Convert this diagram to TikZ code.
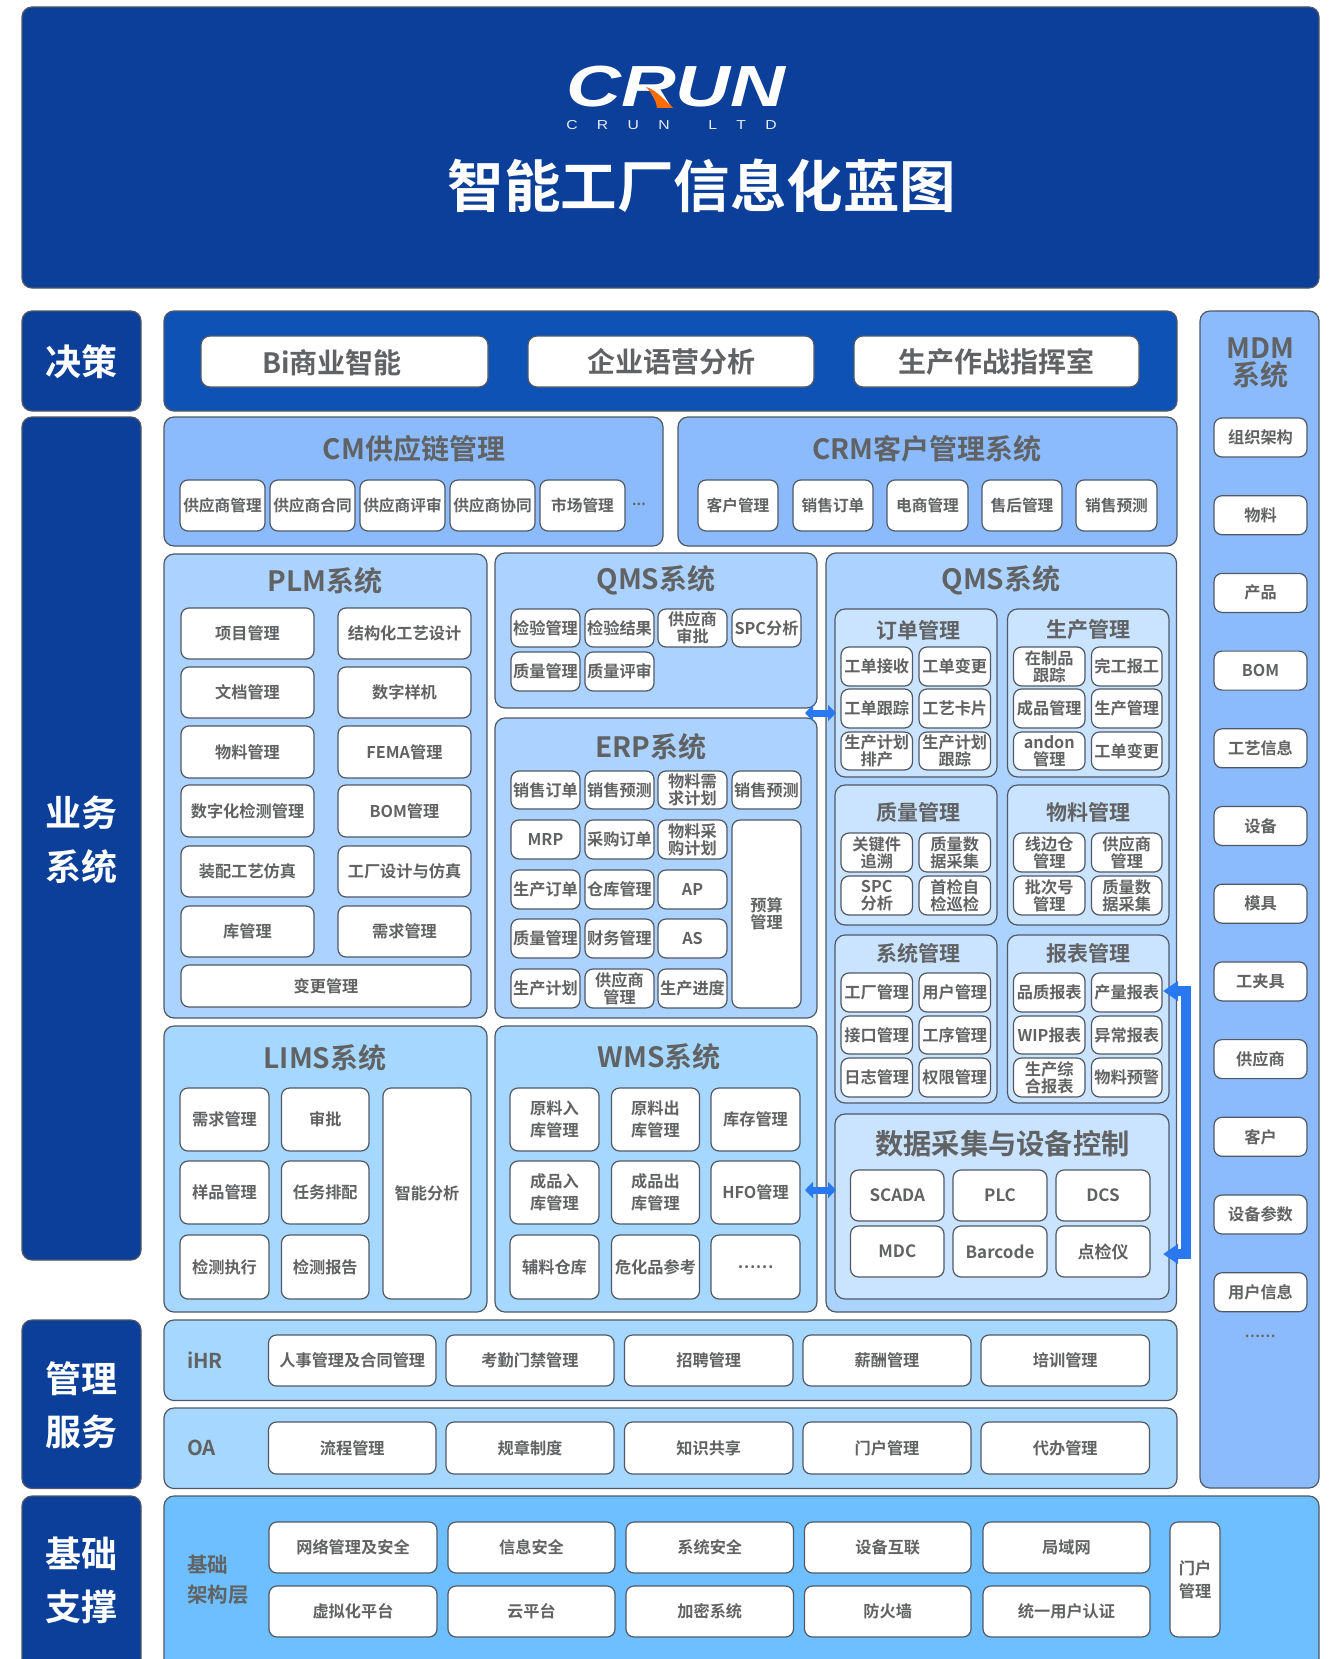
\documentclass[tikz,border=0pt]{standalone}
\usepackage{fontspec}
\usepackage{graphicx}
\usetikzlibrary{arrows.meta}
\setmainfont{Noto Sans CJK SC}[BoldFont={Noto Sans CJK SC Bold}]
\newfontfamily\medf{Noto Sans CJK SC Medium}
\newfontfamily\boldf{Noto Sans CJK SC Bold}
\newfontfamily\logof{Liberation Sans Bold Italic}
\newfontfamily\logos[LetterSpace=95]{Liberation Sans}
\definecolor{navy}{HTML}{0B3F99}
\definecolor{royal}{HTML}{0F52B5}
\definecolor{pA}{HTML}{8CBBFD}
\definecolor{pB}{HTML}{ACD2FF}
\definecolor{pC}{HTML}{A6D8FF}
\definecolor{pD}{HTML}{CAE3FF}
\definecolor{pE}{HTML}{6DBFFF}
\definecolor{ink}{HTML}{616263}
\definecolor{edge}{HTML}{4F5864}
\definecolor{flowc}{HTML}{2A78F0}
\newcounter{nid}
\newcommand{\fs}[1]{\fontsize{#1}{17}\selectfont}
% \bx[style]{x1}{y1}{x2}{y2}{text}
\newcommand{\bx}[6][]{%
  \stepcounter{nid}%
  \pgfmathsetmacro{\cxv}{(#2+#4)/2}\pgfmathsetmacro{\cyv}{(#3+#5)/2}%
  \pgfmathsetmacro{\wv}{#4-#2}\pgfmathsetmacro{\hv}{#5-#3}%
  \node[#1,minimum width=\wv pt,minimum height=\hv pt] (n\thenid) at (\cxv,\cyv) {#6};}
\newcommand{\tx}[4][]{%
  \stepcounter{nid}%
  \node[lbl,#1] (n\thenid) at (#2,#3) {#4};}
\tikzset{
  base/.style={draw=edge,line width=1.2pt,rounded corners=8pt,inner sep=0pt,outer sep=0pt,align=center,text=ink},
  chip/.style={base,fill=white,font=\boldf\fs{16.2}},
  chipS/.style={chip,font=\boldf\fs{15.7}},
  big/.style={chip,rounded corners=9pt,font=\boldf\fs{28}},
  dark/.style={base,fill=navy,rounded corners=10pt,text=white},
  pnlA/.style={base,fill=pA,rounded corners=10pt},
  pnlB/.style={base,fill=pB,rounded corners=10pt},
  pnlC/.style={base,fill=pC,rounded corners=10pt},
  pnlD/.style={base,fill=pD,rounded corners=10pt},
  lbl/.style={inner sep=0pt,text=ink,align=center,font=\boldf\fs{28}},
  sub/.style={lbl,font=\boldf\fs{21}},
  side/.style={lbl,font=\boldf\fs{20.5}},
  wlbl/.style={lbl,text=white,font=\boldf\fs{36}},
  flow/.style={flowc,line width=#1},
}
\begin{document}
\begin{tikzpicture}[x=1pt,y=-1pt]
\useasboundingbox (0,0) rectangle (1332,1659);
\clip (0,0) rectangle (1332,1659);
\fill[white] (0,0) rectangle (1332,1659);
% header
\bx[dark]{22}{7}{1319}{288}{}
\tx[font=\logof\fs{58},text=white]{676}{87}{\scalebox{1.31}[1]{CRUN}}
\fill[orange!85!red] (646,87) .. controls (654,89) and (662,97) .. (673,108) -- (657,108) .. controls (656,100) and (652,93) .. (646,87) -- cycle;
\tx[font=\logos\fs{13},text=white!90!navy]{671.5}{125}{\scalebox{1.21}[1]{C R U N\ \ L T D}}
\tx[font=\boldf\fs{56.5},text=white]{702}{186}{智能工厂信息化蓝图}
% decision
\bx[dark]{22}{311}{141}{411}{}
\tx[wlbl]{81.5}{362}{决策}
\bx[base,fill=royal,rounded corners=10pt]{164}{311}{1177}{411}{}
\bx[big]{201}{336}{488}{387}{}
\tx[font=\boldf\fs{28}]{332}{363}{Bi商业智能}
\bx[big]{528}{336}{814}{387}{企业语营分析}
\bx[big]{854}{336}{1139}{387}{生产作战指挥室}
% MDM
\bx[pnlA]{1200}{311}{1319}{1488}{}
\tx[font=\boldf\fs{28}]{1260}{348}{MDM}
\tx[font=\boldf\fs{28}]{1260}{375}{系统}
\bx[chip]{1214}{418}{1307}{457}{组织架构}
\bx[chip]{1214}{495.7}{1307}{534.7}{物料}
\bx[chip]{1214}{573.4}{1307}{612.4}{产品}
\bx[chip]{1214}{651.1}{1307}{690.1}{BOM}
\bx[chip]{1214}{728.8}{1307}{767.8}{工艺信息}
\bx[chip]{1214}{806.5}{1307}{845.5}{设备}
\bx[chip]{1214}{884.2}{1307}{923.2}{模具}
\bx[chip]{1214}{961.9}{1307}{1000.9}{工夹具}
\bx[chip]{1214}{1039.6}{1307}{1078.6}{供应商}
\bx[chip]{1214}{1117.3}{1307}{1156.3}{客户}
\bx[chip]{1214}{1195}{1307}{1234}{设备参数}
\bx[chip]{1214}{1272.7}{1307}{1311.7}{用户信息}
\tx[font=\boldf\fs{14}]{1260}{1336}{……}
% business
\bx[dark]{22}{417}{141}{1260}{}
\tx[wlbl]{81.5}{813}{业务}
\tx[wlbl]{81.5}{867}{系统}
% CM
\bx[pnlA]{164}{417}{663}{546}{}
\tx{414}{449}{CM供应链管理}
\bx[chipS]{180}{480}{265}{531}{供应商管理}
\bx[chipS]{270}{480}{355}{531}{供应商合同}
\bx[chipS]{360}{480}{445}{531}{供应商评审}
\bx[chipS]{450}{480}{535}{531}{供应商协同}
\bx[chipS]{540}{480}{625}{531}{市场管理}
\tx[font=\boldf\fs{14}]{639}{504}{...}
% CRM
\bx[pnlA]{678}{417}{1177}{546}{}
\tx{927}{449}{CRM客户管理系统}
\bx[chipS]{698}{480}{778}{531}{客户管理}
\bx[chipS]{793}{480}{873}{531}{销售订单}
\bx[chipS]{887}{480}{968}{531}{电商管理}
\bx[chipS]{982}{480}{1062}{531}{售后管理}
\bx[chipS]{1076}{480}{1157}{531}{销售预测}
% PLM
\bx[pnlB]{164}{554}{487}{1018}{}
\tx{325}{581}{PLM系统}
\bx[chip]{181}{608}{314}{659}{项目管理}
\bx[chip]{338}{608}{471}{659}{结构化工艺设计}
\bx[chip]{181}{667}{314}{718}{文档管理}
\bx[chip]{338}{667}{471}{718}{数字样机}
\bx[chip]{181}{726}{314}{778}{物料管理}
\bx[chip]{338}{726}{471}{778}{FEMA管理}
\bx[chip]{181}{785}{314}{837}{数字化检测管理}
\bx[chip]{338}{785}{471}{837}{BOM管理}
\bx[chip]{181}{846}{314}{897}{装配工艺仿真}
\bx[chip]{338}{846}{471}{897}{工厂设计与仿真}
\bx[chip]{181}{906}{314}{957}{库管理}
\bx[chip]{338}{906}{471}{957}{需求管理}
\bx[chip]{181}{965}{471}{1007}{变更管理}
% QMS left
\bx[pnlB]{495}{553}{817}{708}{}
\tx{656}{580}{QMS系统}
\bx[chip]{511}{609}{580}{647}{检验管理}
\bx[chip]{585}{609}{654}{647}{检验结果}
\bx[chip]{658}{609}{727}{647}{供应商\\审批}
\bx[chip]{732}{609}{801}{647}{SPC分析}
\bx[chip]{511}{652}{580}{691}{质量管理}
\bx[chip]{585}{652}{654}{691}{质量评审}
% ERP
\bx[pnlB]{495}{718}{817}{1018}{}
\tx{651}{747}{ERP系统}
\bx[chip]{511}{771}{580}{809}{销售订单}
\bx[chip]{585}{771}{654}{809}{销售预测}
\bx[chip]{658}{771}{727}{809}{物料需\\求计划}
\bx[chip]{732}{771}{801}{809}{销售预测}
\bx[chip]{511}{820}{580}{859}{MRP}
\bx[chip]{585}{820}{654}{859}{采购订单}
\bx[chip]{658}{820}{727}{859}{物料采\\购计划}
\bx[chip]{732}{820}{801}{1008}{预算\\管理}
\bx[chip]{511}{870}{580}{909}{生产订单}
\bx[chip]{585}{870}{654}{909}{仓库管理}
\bx[chip]{658}{870}{727}{909}{AP}
\bx[chip]{511}{919}{580}{958}{质量管理}
\bx[chip]{585}{919}{654}{958}{财务管理}
\bx[chip]{658}{919}{727}{958}{AS}
\bx[chip]{511}{969}{580}{1008}{生产计划}
\bx[chip]{585}{969}{654}{1008}{供应商\\管理}
\bx[chip]{658}{969}{727}{1008}{生产进度}
% LIMS
\bx[pnlC]{164}{1026}{487}{1312}{}
\tx{325}{1058}{LIMS系统}
\bx[chip]{180}{1088}{269}{1151}{需求管理}
\bx[chip]{281.5}{1088}{369}{1151}{审批}
\bx[chip]{180}{1161}{269}{1224}{样品管理}
\bx[chip]{281.5}{1161}{369}{1224}{任务排配}
\bx[chip]{180}{1235}{269}{1299}{检测执行}
\bx[chip]{281.5}{1235}{369}{1299}{检测报告}
\bx[chip]{383}{1088}{471}{1299}{智能分析}
% WMS
\bx[pnlC]{495}{1026}{817}{1312}{}
\tx{659}{1057}{WMS系统}
\bx[chip]{510}{1088}{599}{1151}{原料入\\[5pt]库管理}
\bx[chip]{611.5}{1088}{699.5}{1151}{原料出\\[5pt]库管理}
\bx[chip]{711}{1088}{800}{1151}{库存管理}
\bx[chip]{510}{1161}{599}{1224}{成品入\\[5pt]库管理}
\bx[chip]{611.5}{1161}{699.5}{1224}{成品出\\[5pt]库管理}
\bx[chip]{711}{1161}{800}{1224}{HFO管理}
\bx[chip]{510}{1235}{599}{1299}{辅料仓库}
\bx[chip]{611.5}{1235}{699.5}{1299}{危化品参考}
\bx[chip]{711}{1235}{800}{1299}{……}
% QMS right
\bx[pnlB]{826}{553}{1176.5}{1312}{}
\tx{1001}{580}{QMS系统}
\bx[pnlD]{835}{609}{997}{777}{}
\tx[sub]{918}{630}{订单管理}
\bx[chip]{841}{647}{912.5}{686}{工单接收}
\bx[chip]{919}{647}{990.5}{686}{工单变更}
\bx[chip]{841}{689}{912.5}{728}{工单跟踪}
\bx[chip]{919}{689}{990.5}{728}{工艺卡片}
\bx[chip]{841}{732}{912.5}{770}{生产计划\\排产}
\bx[chip]{919}{732}{990.5}{770}{生产计划\\跟踪}
\bx[pnlD]{1007.5}{609}{1169}{777}{}
\tx[sub]{1088}{630}{生产管理}
\bx[chip]{1013.5}{647}{1085}{686}{在制品\\跟踪}
\bx[chip]{1091.5}{647}{1162}{686}{完工报工}
\bx[chip]{1013.5}{689}{1085}{728}{成品管理}
\bx[chip]{1091.5}{689}{1162}{728}{生产管理}
\bx[chip]{1013.5}{732}{1085}{770}{andon\\管理}
\bx[chip]{1091.5}{732}{1162}{770}{工单变更}
\bx[pnlD]{835}{785}{997}{925}{}
\tx[sub]{918}{812}{质量管理}
\bx[chip]{841}{833}{912.5}{872}{关键件\\追溯}
\bx[chip]{919}{833}{990.5}{872}{质量数\\据采集}
\bx[chip]{841}{876}{912.5}{915}{SPC\\分析}
\bx[chip]{919}{876}{990.5}{915}{首检自\\检巡检}
\bx[pnlD]{1007.5}{785}{1169}{925}{}
\tx[sub]{1088}{812}{物料管理}
\bx[chip]{1013.5}{833}{1085}{872}{线边仓\\管理}
\bx[chip]{1091.5}{833}{1162}{872}{供应商\\管理}
\bx[chip]{1013.5}{876}{1085}{915}{批次号\\管理}
\bx[chip]{1091.5}{876}{1162}{915}{质量数\\据采集}
\bx[pnlD]{835}{935}{997}{1103}{}
\tx[sub]{918}{953}{系统管理}
\bx[chip]{841}{973}{912.5}{1012}{工厂管理}
\bx[chip]{919}{973}{990.5}{1012}{用户管理}
\bx[chip]{841}{1016}{912.5}{1054}{接口管理}
\bx[chip]{919}{1016}{990.5}{1054}{工序管理}
\bx[chip]{841}{1058}{912.5}{1097}{日志管理}
\bx[chip]{919}{1058}{990.5}{1097}{权限管理}
\bx[pnlD]{1007.5}{935}{1169}{1103}{}
\tx[sub]{1088}{953}{报表管理}
\bx[chip]{1013.5}{973}{1085}{1012}{品质报表}
\bx[chip]{1091.5}{973}{1162}{1012}{产量报表}
\bx[chip]{1013.5}{1016}{1085}{1054}{WIP报表}
\bx[chip]{1091.5}{1016}{1162}{1054}{异常报表}
\bx[chip]{1013.5}{1058}{1085}{1097}{生产综\\合报表}
\bx[chip]{1091.5}{1058}{1162}{1097}{物料预警}
\bx[pnlD]{835}{1114}{1169}{1299}{}
\tx[font=\boldf\fs{28.3}]{1002.5}{1144}{数据采集与设备控制}
\bx[chip,font=\boldf\fs{17}]{850.5}{1170}{944}{1221}{SCADA}
\bx[chip,font=\boldf\fs{17}]{953}{1170}{1047}{1221}{PLC}
\bx[chip,font=\boldf\fs{17}]{1056}{1170}{1150}{1221}{DCS}
\bx[chip,font=\boldf\fs{17}]{850.5}{1226}{944}{1277}{MDC}
\bx[chip,font=\boldf\fs{17}]{953}{1226}{1047}{1277}{Barcode}
\bx[chip,font=\boldf\fs{17}]{1056}{1226}{1150}{1277}{点检仪}
% connectors
\coordinate (qA) at (805,713); \coordinate (qB) at (836,713);
\coordinate (hA) at (805,1190); \coordinate (hB) at (836,1190);
\coordinate (rT) at (1163,991); \coordinate (rTc) at (1185.5,991);
\coordinate (rB) at (1163,1254); \coordinate (rBc) at (1185.5,1254);
\draw[flow=7pt,{Triangle[length=8pt,width=16pt,fill=flowc]}-{Triangle[length=8pt,width=16pt,fill=flowc]}] (qA) -- (qB);
\draw[flow=7pt,{Triangle[length=8pt,width=16pt,fill=flowc]}-{Triangle[length=8pt,width=16pt,fill=flowc]}] (hA) -- (hB);
\draw[flow=10pt,line join=miter,{Triangle[length=15pt,width=19pt,fill=flowc]}-{Triangle[length=15pt,width=19pt,fill=flowc]}] (rT) -- (rTc) -- (rBc) -- (rB);
% management
\bx[dark]{22}{1320}{141}{1488.5}{}
\tx[wlbl]{81.5}{1379}{管理}
\tx[wlbl]{81.5}{1432}{服务}
\bx[pnlC]{164}{1320}{1177}{1400.5}{}
\tx[side,anchor=west]{187}{1360}{iHR}
\bx[chip]{268.5}{1335}{436}{1386}{人事管理及合同管理}
\bx[chip]{446}{1335}{614}{1386}{考勤门禁管理}
\bx[chip]{624.5}{1335}{793}{1386}{招聘管理}
\bx[chip]{803}{1335}{971}{1386}{薪酬管理}
\bx[chip]{981}{1335}{1149.5}{1386}{培训管理}
\bx[pnlC]{164}{1408}{1177}{1488.5}{}
\tx[side,anchor=west]{187}{1448}{OA}
\bx[chip]{268.5}{1422}{436}{1474}{流程管理}
\bx[chip]{446}{1422}{614}{1474}{规章制度}
\bx[chip]{624.5}{1422}{793}{1474}{知识共享}
\bx[chip]{803}{1422}{971}{1474}{门户管理}
\bx[chip]{981}{1422}{1149.5}{1474}{代办管理}
% infrastructure
\bx[dark]{22}{1496}{141}{1690}{}
\tx[wlbl]{81.5}{1554}{基础}
\tx[wlbl]{81.5}{1607}{支撑}
\bx[base,fill=pE,rounded corners=10pt]{164}{1496}{1319}{1690}{}
\tx[side,anchor=west]{187}{1565}{基础}
\tx[side,anchor=west]{187}{1595}{架构层}
\bx[chip]{269}{1522}{437}{1573}{网络管理及安全}
\bx[chip]{448}{1522}{615}{1573}{信息安全}
\bx[chip]{626}{1522}{793.5}{1573}{系统安全}
\bx[chip]{804.5}{1522}{971}{1573}{设备互联}
\bx[chip]{983}{1522}{1150}{1573}{局域网}
\bx[chip]{269}{1586}{437}{1637}{虚拟化平台}
\bx[chip]{448}{1586}{615}{1637}{云平台}
\bx[chip]{626}{1586}{793.5}{1637}{加密系统}
\bx[chip]{804.5}{1586}{971}{1637}{防火墙}
\bx[chip]{983}{1586}{1150}{1637}{统一用户认证}
\bx[chip]{1170}{1522}{1220}{1637}{门户\\[6pt]管理}
\end{tikzpicture}
\end{document}
